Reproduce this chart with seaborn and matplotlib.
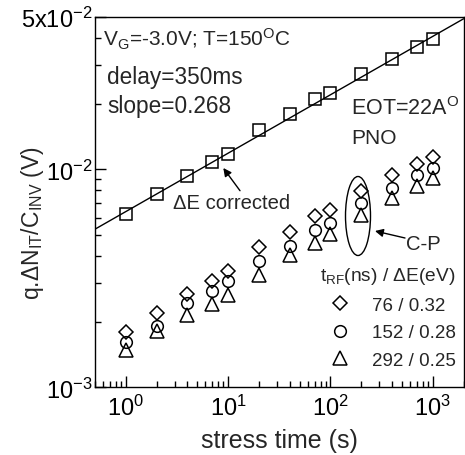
import numpy as np
import pandas as pd
import matplotlib
matplotlib.use("Agg")
import matplotlib.pyplot as plt
import seaborn as sns
from matplotlib.patches import Ellipse
from matplotlib.transforms import IdentityTransform
from matplotlib.ticker import FixedLocator, FixedFormatter, LogLocator, NullFormatter

# ---------------- data ----------------
time_s = [1, 2, 4, 7, 10, 20, 40, 70, 100, 200, 400, 700, 1000]
dE_corrected = [6.25e-3, 7.73e-3, 9.29e-3, 1.08e-2, 1.18e-2, 1.51e-2, 1.80e-2,
                2.10e-2, 2.24e-2, 2.73e-2, 3.22e-2, 3.66e-2, 3.98e-2]
trf_76 = [1.80e-3, 2.19e-3, 2.69e-3, 3.09e-3, 3.42e-3, 4.38e-3, 5.17e-3,
          6.08e-3, 6.48e-3, 7.94e-3, 9.42e-3, 1.055e-2, 1.144e-2]
trf_152 = [1.61e-3, 1.92e-3, 2.43e-3, 2.77e-3, 3.06e-3, 3.78e-3, 4.46e-3,
           5.27e-3, 5.67e-3, 6.98e-3, 8.18e-3, 9.42e-3, 1.01e-2]
trf_292 = [1.49e-3, 1.82e-3, 2.14e-3, 2.40e-3, 2.64e-3, 3.29e-3, 4.03e-3,
           4.59e-3, 5.05e-3, 6.19e-3, 7.35e-3, 8.38e-3, 9.16e-3]
legend_labels = ["76 / 0.32", "152 / 0.28", "292 / 0.25"]
legend_title = r"t$_{\rm RF}$(ns) / ΔE(eV)"
fit_slope = 0.268
fit_prefactor = 6.4e-3
fit_time_range = [0.5, 2000]
x_ticks = [1, 10, 100, 1000]
x_tick_labels = [r"$10^{0}$", r"$10^{1}$", r"$10^{2}$", r"$10^{3}$"]
y_ticks = [1e-3, 1e-2, 5e-2]
y_tick_labels = [r"$10^{-3}$", r"$10^{-2}$", r"5x$10^{-2}$"]

# ---------------- style ----------------
sns.set_theme(style="ticks")
plt.rcParams["font.family"] = ["Liberation Sans", "DejaVu Sans"]
plt.rcParams["mathtext.fontset"] = "custom"
plt.rcParams["mathtext.rm"] = "Liberation Sans"
plt.rcParams["mathtext.it"] = "Liberation Sans:italic"
plt.rcParams["mathtext.bf"] = "Liberation Sans:bold"
plt.rcParams["mathtext.default"] = "regular"

W, H = 465, 456
fig = plt.figure(figsize=(W / 100, H / 100), dpi=100)
ax_l, ax_r, ax_t, ax_b = 95, 463.6, 18, 388.3
ax = fig.add_axes([ax_l / W, 1 - ax_b / H, (ax_r - ax_l) / W, (ax_b - ax_t) / H])


def fpos(x, y):
    return x / W, 1 - y / H


# fit line
fit_y = [fit_prefactor * t ** fit_slope for t in fit_time_range]
sns.lineplot(x=fit_time_range, y=fit_y, ax=ax, color="black", lw=1.0,
             legend=False, zorder=2)

mk_common = dict(linestyle="", markerfacecolor="none", markeredgecolor="black",
                 markeredgewidth=1.1, color="black", zorder=3)
sns.lineplot(x=time_s, y=dE_corrected, ax=ax, marker="s", markersize=9.0,
             legend=False, **mk_common)
series = [(trf_76, "D", 6.8), (trf_152, "o", 8.4), (trf_292, "^", 9.5)]
for (vals, mk, ms), lab in zip(series, legend_labels):
    sns.lineplot(x=time_s, y=vals, ax=ax, marker=mk, markersize=ms,
                 label=lab, **mk_common)

ax.set_xscale("log")
ax.set_yscale("log")
ax.set_xlim(0.5, 2000)
ax.set_ylim(1e-3, 5e-2)

ax.xaxis.set_major_locator(FixedLocator(x_ticks))
ax.xaxis.set_major_formatter(FixedFormatter(x_tick_labels))
ax.xaxis.set_minor_locator(LogLocator(base=10, subs=np.arange(2, 10), numticks=20))
ax.xaxis.set_minor_formatter(NullFormatter())
ax.yaxis.set_major_locator(FixedLocator(y_ticks))
ax.yaxis.set_major_formatter(FixedFormatter(y_tick_labels))
ax.yaxis.set_minor_locator(LogLocator(base=10, subs=np.arange(2, 10), numticks=20))
ax.yaxis.set_minor_formatter(NullFormatter())

ax.tick_params(which="both", direction="in", width=1.0, colors="black",
               top=False, right=False)
ax.tick_params(which="major", length=8, labelsize=17)
ax.tick_params(which="minor", length=4)
ax.tick_params(axis="x", which="major", pad=5)
ax.tick_params(axis="y", which="major", pad=2)
for s in ax.spines.values():
    s.set_linewidth(1.0)
    s.set_color("black")
    s.set_visible(True)

ax.set_xlabel("stress time (s)", fontsize=18, labelpad=6)
ax.set_ylabel("")
fig.text(*fpos(33, 223), r"q.ΔN$_{\rm IT}$/C$_{\rm INV}$ (V)", rotation=90,
         ha="center", va="center", fontsize=16.5)

# annotations
fig.text(*fpos(103, 46.7), r"V$_{\rm G}$=-3.0V; T=150$^{\rm O}$C", fontsize=15,
         va="baseline", ha="left")
fig.text(*fpos(107, 84), "delay=350ms", fontsize=16.3, va="baseline", ha="left")
fig.text(*fpos(107, 113), "slope=0.268", fontsize=16.3, va="baseline", ha="left")
fig.text(*fpos(351, 115), r"EOT=22A$^{\rm O}$", fontsize=15.5, va="baseline", ha="left")
fig.text(*fpos(351, 144), "PNO", fontsize=15, va="baseline", ha="left")
fig.text(*fpos(173, 209), "ΔE corrected", fontsize=14.6, va="baseline", ha="left")
fig.text(*fpos(406, 250), "C-P", fontsize=14.6, va="baseline", ha="left")

arrow = dict(arrowstyle="-|>", color="black", lw=1.0, mutation_scale=12,
             shrinkA=0, shrinkB=0)
ax.annotate("", xy=(223.3, H - 169), xytext=(240, H - 191.7),
            xycoords="figure pixels", textcoords="figure pixels", arrowprops=arrow)
ax.annotate("", xy=(375, H - 232), xytext=(405, H - 239),
            xycoords="figure pixels", textcoords="figure pixels", arrowprops=arrow)

ell = Ellipse((358, H - 217), 25, 79, transform=IdentityTransform(),
              fill=False, edgecolor="black", lw=1.0)
fig.add_artist(ell)

leg = ax.legend(title=legend_title, loc="upper right",
                bbox_to_anchor=fpos(465, 257), bbox_transform=fig.transFigure,
                frameon=False, fontsize=13.5, title_fontsize=13.8, borderpad=0,
                handlelength=1.0, handletextpad=1.2, labelspacing=0.55,
                alignment="right")

fig.savefig("out.png", dpi=100)
